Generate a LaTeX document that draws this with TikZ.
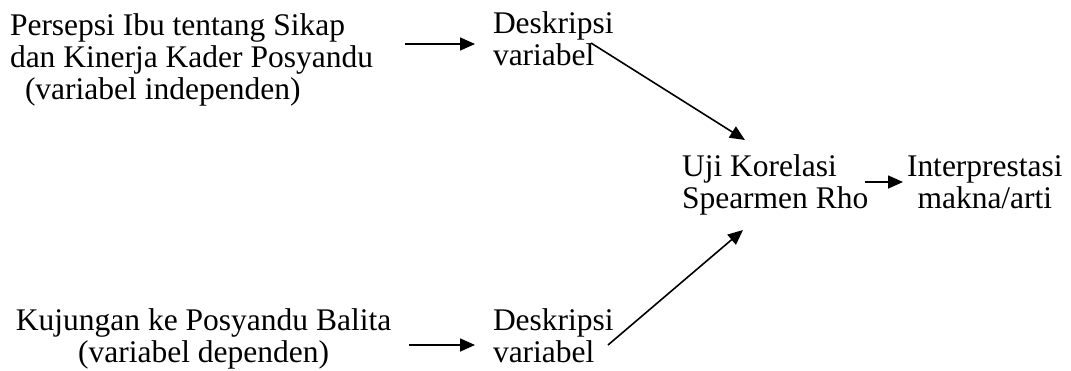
\documentclass[tikz,border=0pt]{standalone}
\usepackage{fontspec}
\setmainfont{Liberation Serif}
\usetikzlibrary{arrows.meta}
\begin{document}
\begin{tikzpicture}[x=1pt,y=-1pt,
  lbl/.style={inner sep=0pt,outer sep=0pt,anchor=base west,
    font=\fontsize{31.5}{32}\selectfont},
  conn/.style={line width=1.6pt,-{Triangle[length=15pt,width=13pt]}}]
\useasboundingbox (0,0) rectangle (1071,370);

% input variables (anchored at the baseline of their last line)
\node[lbl,align=left] (indep) at (10,99)
  {Persepsi Ibu tentang Sikap\\dan Kinerja Kader Posyandu\\\hspace*{15pt}(variabel independen)};
\node[lbl,align=center] (dep) at (16,362)
  {Kujungan ke Posyandu Balita\\(variabel dependen)};

% descriptive steps
\node[lbl,align=left] (deskA) at (493,65) {Deskripsi\\variabel};
\node[lbl,align=left] (deskB) at (493,362) {Deskripsi\\variabel};

% correlation test and interpretation
\node[lbl,align=left] (uji) at (682,208) {Uji Korelasi\\Spearmen Rho};
\node[lbl,align=center] (interp) at (907,208) {Interprestasi\\makna/arti};

% connector end points
\coordinate (a1s) at (405,44);  \coordinate (a1e) at (475,44);
\coordinate (a2s) at (591,43);  \coordinate (a2e) at (745,140);
\coordinate (a3s) at (409,345); \coordinate (a3e) at (475,345);
\coordinate (a4s) at (608,345); \coordinate (a4e) at (743,230);
\coordinate (a5s) at (865,182); \coordinate (a5e) at (903,182);

\draw[conn] (a1s) -- (a1e);
\draw[conn] (a2s) -- (a2e);
\draw[conn] (a3s) -- (a3e);
\draw[conn] (a4s) -- (a4e);
\draw[conn] (a5s) -- (a5e);
\end{tikzpicture}
\end{document}
